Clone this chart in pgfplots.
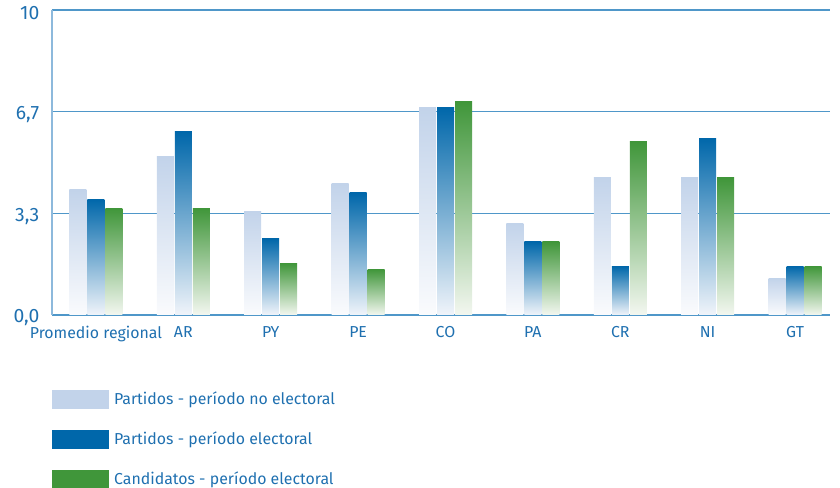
\documentclass[border=0pt]{standalone}
\usepackage{pgfplots}
\pgfplotsset{compat=1.18}
\usepackage{fontspec}
\setmainfont{Fira Sans}
\definecolor{txtblue}{HTML}{1F70B0}
\definecolor{gridblue}{HTML}{4F97C9}
\definecolor{axblue}{HTML}{8DB9DC}
\definecolor{lightA}{HTML}{C2D3EA}
\definecolor{lightB}{HTML}{FAFBFD}
\definecolor{blueA}{HTML}{0067AA}
\definecolor{blueM}{HTML}{3F80C0}
\definecolor{blueB}{HTML}{F0F4FA}
\definecolor{greenA}{HTML}{40963A}
\definecolor{greenM}{HTML}{62A255}
\definecolor{greenB}{HTML}{F3F7F0}
\pgfplotstableread{
x a b c
0 4.1 3.8 3.5
1 5.2 6.0 3.5
2 3.4 2.5 1.7
3 4.3 4.0 1.5
4 6.8 6.8 7.0
5 3.0 2.4 2.4
6 4.5 1.6 5.7
7 4.5 5.8 4.5
8 1.2 1.6 1.6
}\datatable
\begin{document}
\begin{tikzpicture}
\path[use as bounding box] (-39pt,-129.75pt) rectangle (591pt,236.25pt);
\begin{axis}[
  scale only axis,
  width=583.5pt, height=228.75pt,
  xmin=-0.503, xmax=8.4,
  ymin=0, ymax=10,
  axis lines*=left,
  x axis line style={draw=gridblue, line width=1pt},
  y axis line style={draw=axblue, line width=0.8pt},
  ytick={0,3.33,6.67,10},
  yticklabels={0{,}0,3{,}3,6{,}7,10},
  xtick={0,...,8},
  xticklabels={Promedio regional,AR,PY,PE,CO,PA,CR,NI,GT},
  major tick length=0pt,
  ymajorgrids,
  grid style={draw=gridblue, line width=0.9pt},
  y tick label style={font=\fontsize{14.5}{16}\selectfont, text=txtblue, xshift=-6pt, yshift=-2pt},
  x tick label style={font=\fontsize{11.9}{14}\selectfont, text=txtblue, yshift=-5pt},
  bar width=12.75pt,
  legend style={at={(0,0)}, anchor=north west, yshift=-56pt, draw=none, fill=none,
    inner sep=0pt, font=\fontsize{11.9}{14}\selectfont, text=txtblue,
    row sep=16pt, column sep=0pt, legend cell align=left,
    nodes={inner sep=0pt, anchor=west}},
]
\pgfplotsinvokeforeach{0,...,8}{
\addplot[ybar, bar shift=-13.5pt, draw=none, top color=lightA, bottom color=lightB, forget plot, restrict x to domain=#1:#1] table[x=x,y=a]{\datatable};
\addplot[ybar, bar shift=0pt, draw=none, top color=blueA, middle color=blueM, bottom color=blueB, forget plot, restrict x to domain=#1:#1] table[x=x,y=b]{\datatable};
\addplot[ybar, bar shift=13.5pt, draw=none, top color=greenA, middle color=greenM, bottom color=greenB, forget plot, restrict x to domain=#1:#1] table[x=x,y=c]{\datatable};
}
\addlegendimage{legend image code/.code={\fill[lightA] (0pt,-6.75pt) rectangle (42pt,6.75pt); \path (46pt,0pt);}}
\addlegendentry{Partidos - período no electoral}
\addlegendimage{legend image code/.code={\fill[blueA] (0pt,-6.75pt) rectangle (42pt,6.75pt); \path (46pt,0pt);}}
\addlegendentry{Partidos - período electoral}
\addlegendimage{legend image code/.code={\fill[greenA] (0pt,-6.75pt) rectangle (42pt,6.75pt); \path (46pt,0pt);}}
\addlegendentry{Candidatos - período electoral}
\end{axis}
\end{tikzpicture}
\end{document}
